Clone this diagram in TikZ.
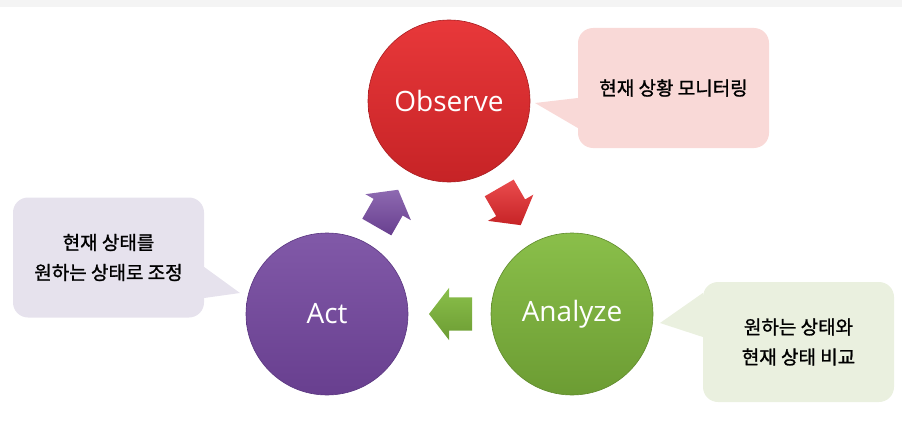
\documentclass[tikz,border=0pt]{standalone}
\usepackage{fontspec}
\usepackage{tikz}
\usetikzlibrary{shapes,shapes.arrows,calc}
\newfontfamily\phasefont{Open Sans}
\newfontfamily\krfont[FakeBold=1.2]{Noto Sans CJK KR}
\definecolor{obstop}{HTML}{E8383A}
\definecolor{obsbot}{HTML}{C62326}
\definecolor{obsline}{HTML}{A81C20}
\definecolor{anatop}{HTML}{8ABF4A}
\definecolor{anabot}{HTML}{6C9C33}
\definecolor{analine}{HTML}{5F8A2C}
\definecolor{acttop}{HTML}{8159A8}
\definecolor{actbot}{HTML}{683F8F}
\definecolor{actline}{HTML}{5A3680}
\definecolor{notepink}{HTML}{F9D9D7}
\definecolor{notelilac}{HTML}{E6E2ED}
\definecolor{notegreen}{HTML}{EAF0DF}
\definecolor{topband}{HTML}{F4F4F4}
\tikzset{phase/.style={
    circle, minimum size=162pt, inner sep=0pt, line width=0.6pt,
    font=\phasefont\fontsize{28}{30}\selectfont, text=white},
  note/.style={
    rounded corners=15pt, minimum width=191pt, minimum height=120pt,
    inner sep=0pt, align=center,
    font=\krfont\fontsize{19}{30}\selectfont},
  cyclearrow/.style={
    single arrow, draw=none, inner xsep=0pt, inner ysep=16.5pt,
    minimum height=43pt,
    single arrow head extend=9.5pt, single arrow tip angle=105,
    sloped, allow upside down, pos=0.41}}

\begin{document}
\begin{tikzpicture}[x=1pt,y=-1pt]
	\useasboundingbox (0,0) rectangle (902,428);
\fill[topband] (0,0) rectangle (902,7);

\coordinate (O) at (449,101);
\coordinate (N) at (572,314);
\coordinate (A) at (327,314);

\node[phase, top color=obstop, bottom color=obsbot, draw=obsline] (obs) at (O) {Observe};
\node[phase, top color=anatop, bottom color=anabot, draw=analine] (ana) at (N) {Analyze};
\node[phase, top color=acttop, bottom color=actbot, draw=actline] (act) at (A) {Act};

\path (obs) -- node[cyclearrow, top color=obstop!90!white, bottom color=obsbot] (obs2ana) {} (ana);
\path (ana) -- node[cyclearrow, top color=anatop, bottom color=anabot] (ana2act) {} (act);
\path (act) -- node[cyclearrow, top color=acttop!90!white, bottom color=actbot] (act2obs) {} (obs);

	\node[note, fill=notepink] (obsnote) at (673.5,88) {현재 상황 모니터링};
	\node[note, fill=notegreen] (ananote) at (798.5,342) {원하는 상태와\\현재 상태 비교};
	\node[note, fill=notelilac] (actnote) at (108.5,257.5) {현재 상태를\\원하는 상태로 조정};

\coordinate (obstip) at (535,103);
\coordinate (anatip) at (660,323);
\coordinate (acttip) at (240,293);
\fill[notepink] ($(obsnote.west)+(0,10)$) -- (obstip) -- ($(obsnote.west)+(0,40)$) -- cycle;
\fill[notegreen] ($(ananote.west)+(0,-49)$) -- (anatip) -- ($(ananote.west)+(0,-5)$) -- cycle;
\fill[notelilac] ($(actnote.east)+(0,9.5)$) -- (acttip) -- ($(actnote.east)+(0,40.5)$) -- cycle;

\end{tikzpicture}
\end{document}
